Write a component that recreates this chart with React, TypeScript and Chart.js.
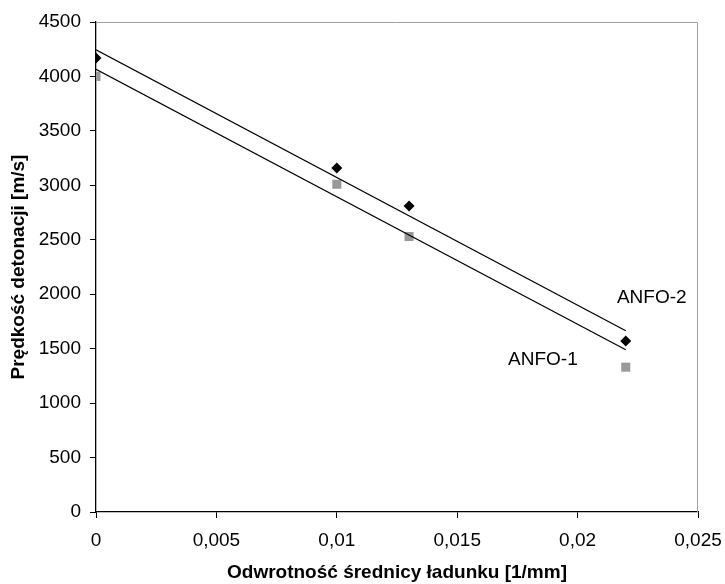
import React, { useEffect, useRef } from "react";
import { Chart, registerables } from "chart.js";

Chart.register(...registerables);

const xValues = [0, 0.01, 0.013, 0.022];
const anfo2 = [4170, 3160, 2810, 1570];
const anfo1 = [4000, 3010, 2530, 1330];
const trendX = [0, 0.022];
const trend2 = [4245, 1665];
const trend1 = [4065, 1490];
const seriesLabels = ["ANFO-2", "ANFO-1"];
const labelPosX = [0.02308, 0.01856];
const labelPosY = [1965, 1396];

const FONT = "'Liberation Sans', Arial, sans-serif";
const FS = 19;

export default function App() {
  const ref = useRef<HTMLCanvasElement>(null);
  useEffect(() => {
    const ctx = ref.current!;
    const frame = {
      id: "frame",
      beforeDatasetsDraw(chart: any) {
        const { ctx, chartArea: a } = chart;
        ctx.save();
        ctx.strokeStyle = "#a0a0a0";
        ctx.lineWidth = 1;
        ctx.beginPath();
        ctx.moveTo(a.left, a.top + 0.5);
        ctx.lineTo(a.right - 0.5, a.top + 0.5);
        ctx.lineTo(a.right - 0.5, a.bottom);
        ctx.stroke();
        ctx.restore();
      },
      afterDatasetsDraw(chart: any) {
        const { ctx } = chart;
        const xs = chart.scales.x;
        const ys = chart.scales.y;
        ctx.save();
        ctx.fillStyle = "#000";
        ctx.font = `${FS}px ${FONT}`;
        ctx.textAlign = "center";
        ctx.textBaseline = "middle";
        seriesLabels.forEach((t, i) => {
          ctx.fillText(t, xs.getPixelForValue(labelPosX[i]), ys.getPixelForValue(labelPosY[i]));
        });
        ctx.restore();
      },
    };
    const chart = new Chart(ctx, {
      type: "scatter",
      data: {
        datasets: [
          {
            label: "trend2",
            data: trendX.map((x, i) => ({ x, y: trend2[i] })),
            showLine: true,
            borderColor: "#000",
            borderWidth: 1.3,
            pointRadius: 0,
            fill: false,
          },
          {
            label: "trend1",
            data: trendX.map((x, i) => ({ x, y: trend1[i] })),
            showLine: true,
            borderColor: "#000",
            borderWidth: 1.3,
            pointRadius: 0,
            fill: false,
          },
          {
            label: "ANFO-2",
            data: xValues.map((x, i) => ({ x, y: anfo2[i] })),
            pointStyle: "rectRot",
            pointRadius: 5.5,
            backgroundColor: "#000",
            borderColor: "#000",
            borderWidth: 0,
          },
          {
            label: "ANFO-1",
            data: xValues.map((x, i) => ({ x, y: anfo1[i] })),
            pointStyle: "rect",
            pointRadius: 6.4,
            backgroundColor: "#999999",
            borderColor: "#999999",
            borderWidth: 0,
          },
        ],
      },
      options: {
        animation: false,
        responsive: true,
        maintainAspectRatio: false,
        layout: { padding: { left: 0, top: 22, right: 27, bottom: 0 } },
        plugins: { legend: { display: false }, tooltip: { enabled: false } },
        scales: {
          x: {
            type: "linear",
            min: 0,
            max: 0.025,
            afterFit: (s: any) => {
              s.height = 584 - 512;
              s.paddingLeft = 0;
              s.paddingRight = 0;
            },
            ticks: {
              stepSize: 0.005,
              color: "#000",
              font: { family: FONT, size: FS },
              padding: 11,
              maxRotation: 0,
              callback: (v: any) => String(Math.round(Number(v) * 1000) / 1000).replace(".", ","),
            },
            grid: { drawOnChartArea: false, color: "#000", tickLength: 6, tickColor: "#000" },
            border: { color: "#000", width: 1.3 },
            title: {
              display: true,
              text: "Odwrotność średnicy ładunku [1/mm]",
              color: "#000",
              font: { family: FONT, size: FS, weight: "bold" },
              padding: { top: 0, bottom: 0 },
            },
          },
          y: {
            min: 0,
            max: 4500,
            afterFit: (s: any) => {
              s.width = 96;
              s.paddingTop = 0;
              s.paddingBottom = 0;
            },
            ticks: {
              stepSize: 500,
              color: "#000",
              font: { family: FONT, size: FS },
              padding: 9,
              callback: (v: any) => String(v),
            },
            grid: { drawOnChartArea: false, color: "#000", tickLength: 6, tickColor: "#000" },
            border: { color: "#000", width: 1.3 },
            title: {
              display: true,
              text: "Prędkość detonacji [m/s]",
              color: "#000",
              font: { family: FONT, size: FS, weight: "bold" },
              padding: { top: 7, bottom: 0 },
            },
          },
        },
      },
      plugins: [frame],
    } as any);
    return () => chart.destroy();
  }, []);
  return (
    <div style={{ position: "absolute", left: 0, top: 0, width: 725, height: 584, background: "#fff" }}>
      <canvas ref={ref} />
    </div>
  );
}
